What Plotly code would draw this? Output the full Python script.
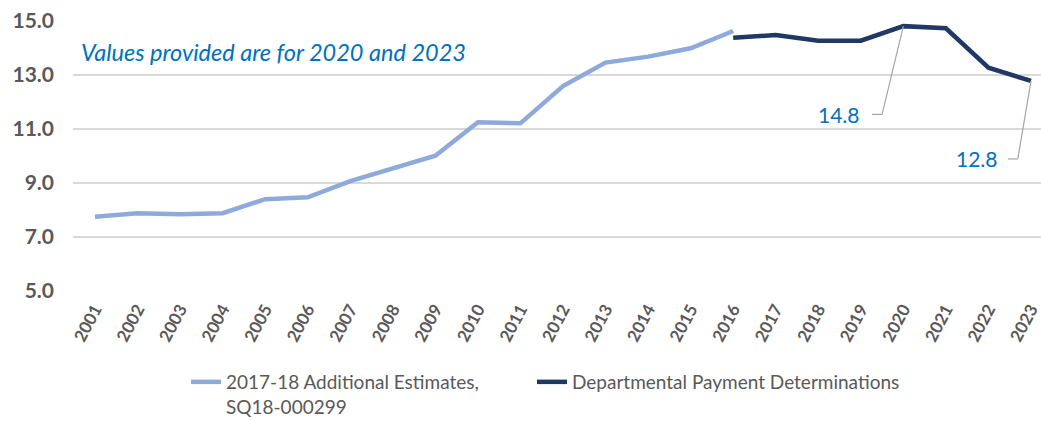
import plotly.graph_objects as go

# Series data
est_years = list(range(2001, 2017))
est_values = [7.75, 7.88, 7.84, 7.88, 8.40, 8.47, 9.07, 9.54, 10.01, 11.25,
              11.21, 12.59, 13.46, 13.68, 13.99, 14.63]

dpd_years = list(range(2016, 2024))
dpd_values = [14.38, 14.48, 14.27, 14.27, 14.81, 14.73, 13.27, 12.78]

tick_years = list(range(2001, 2024))
y_ticks = [5.0, 7.0, 9.0, 11.0, 13.0, 15.0]

est_name = "2017-18 Additional Estimates,<br>SQ18-000299"
dpd_name = "Departmental Payment Determinations"
note_text = "Values provided are for 2020 and 2023"

LIGHT = "#8EA9DB"
DARK = "#203864"
BLUE = "#0070C0"
GREY = "#595959"
LEADER = "#A6A6A6"
FONT = "Lato, 'Open Sans', sans-serif"

fig = go.Figure()
fig.add_trace(go.Scatter(x=est_years, y=est_values, mode="lines", name=est_name,
                         line=dict(color=LIGHT, width=4.5), legend="legend"))
fig.add_trace(go.Scatter(x=dpd_years, y=dpd_values, mode="lines", name=dpd_name,
                         line=dict(color=DARK, width=4.5), legend="legend2"))

# Callout labels with elbow leader lines for 2020 and 2023
callouts = [
    # (year, label text offset dx, label dy, elbow start dx, elbow end dx)
    (2020, -0.97, -3.27, -0.74, -0.50),
    (2023, -0.73, -2.89, -0.54, -0.31),
]
for yr, tdx, tdy, e0, e1 in callouts:
    v = dpd_values[dpd_years.index(yr)]
    fig.add_annotation(x=yr + tdx, y=v + tdy, text=f"{v:.1f}", showarrow=False,
                       xanchor="right", yanchor="middle",
                       font=dict(family=FONT, size=21, color=BLUE))
    fig.add_shape(type="line", x0=yr + e0, y0=v + tdy, x1=yr + e1, y1=v + tdy,
                  line=dict(color=LEADER, width=1.2))
    fig.add_shape(type="line", x0=yr + e1, y0=v + tdy, x1=yr, y1=v,
                  line=dict(color=LEADER, width=1.2))

fig.add_annotation(x=0.006, xref="paper", y=13.85, yref="y", text=f"<i>{note_text}</i>",
                   showarrow=False, xanchor="left", yanchor="middle",
                   font=dict(family=FONT, size=23.5, color=BLUE))

legend_common = dict(orientation="h", xref="container", yref="container",
                     xanchor="left", yanchor="top", valign="top",
                     font=dict(family=FONT, size=19, color=GREY))

fig.update_layout(
    width=1041, height=421,
    margin=dict(l=73, r=0, t=21, b=130, autoexpand=False),
    paper_bgcolor="white", plot_bgcolor="white",
    showlegend=True,
    legend=dict(x=186 / 1041, y=1 - 363 / 421, **legend_common),
    legend2=dict(x=532 / 1041, y=1 - 363 / 421, **legend_common),
    xaxis=dict(range=[2000.483, 2023.235], tickmode="array", tickvals=tick_years,
               ticktext=[str(y) for y in tick_years], tickangle=-62,
               tickfont=dict(family=FONT, size=17, color=GREY, weight="bold"),
               showgrid=False, zeroline=False, showline=False, ticks="",
               automargin=False, ticklabelstandoff=4, ticklabeloverflow="allow"),
    yaxis=dict(range=[5, 15], tickmode="array", tickvals=y_ticks,
               ticktext=[f"{t:.1f}" for t in y_ticks],
               tickfont=dict(family=FONT, size=21, color=GREY, weight="bold"),
               showgrid=True, gridcolor="#D9D9D9", gridwidth=1.8,
               zeroline=False, showline=False, ticks="", ticklabelstandoff=18,
               automargin=False),
)

fig.write_html("out.html")
